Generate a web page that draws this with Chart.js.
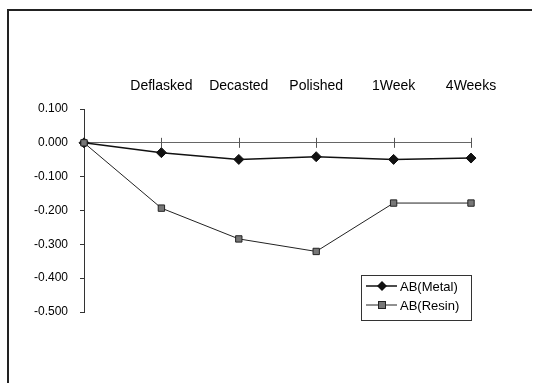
<!DOCTYPE html>
<html>
<head>
<meta charset="utf-8">
<script src="https://cdn.jsdelivr.net/npm/chart.js@4"></script>
<style>
  html, body { margin: 0; padding: 0; background: #fff; }
  #wrap { width: 535px; height: 383px; position: relative; }
</style>
</head>
<body>
<div id="wrap"><canvas id="shrinkageChart"></canvas></div>
<script>
// Data
const stages = ['', 'Deflasked', 'Decasted', 'Polished', '1Week', '4Weeks']
const metalValues = [0, -0.029, -0.049, -0.041, -0.049, -0.045]
const resinValues = [0, -0.193, -0.284, -0.321, -0.178, -0.178]
const seriesNames = ['AB(Metal)', 'AB(Resin)']
const yTicks = [0.1, 0, -0.1, -0.2, -0.3, -0.4, -0.5]

const FONT = '"Liberation Sans", Arial, sans-serif'

// Outer frame: top and left edge only, like the scanned figure
const framePlugin = {
  id: 'frame',
  beforeDraw(chart) {
    const c = chart.ctx
    c.save()
    c.strokeStyle = '#222'
    c.lineWidth = 2
    c.beginPath()
    c.moveTo(8, 383)
    c.lineTo(8, 10)
    c.lineTo(532, 10)
    c.stroke()
    c.restore()
  }
}

// Small tick marks crossing the zero line at each stage
const zeroTicksPlugin = {
  id: 'zeroTicks',
  beforeDatasetsDraw(chart) {
    const c = chart.ctx
    const x = chart.scales.x
    const y0 = chart.scales.y.getPixelForValue(0)
    c.save()
    c.strokeStyle = '#555'
    c.lineWidth = 1
    for (let i = 1; i < stages.length; i++) {
      const px = Math.round(x.getPixelForValue(i)) + 0.5
      c.beginPath()
      c.moveTo(px, y0 - 5)
      c.lineTo(px, y0 + 5)
      c.stroke()
    }
    c.restore()
  }
}

// Boxed legend sitting inside the plot, lower right
const boxLegendPlugin = {
  id: 'boxLegend',
  afterDraw(chart) {
    const c = chart.ctx
    const bx = 361, by = 275, bw = 110, bh = 45
    c.save()
    c.strokeStyle = '#333'
    c.lineWidth = 1
    c.strokeRect(bx + 0.5, by + 0.5, bw, bh)
    c.font = '13px ' + FONT
    c.textBaseline = 'middle'
    chart.data.datasets.forEach((ds, i) => {
      const ry = by + 11 + i * 19
      c.strokeStyle = ds.borderColor
      c.lineWidth = ds.borderWidth
      c.beginPath()
      c.moveTo(bx + 5, ry)
      c.lineTo(bx + 36, ry)
      c.stroke()
      const mx = bx + 21
      c.fillStyle = ds.pointBackgroundColor
      c.strokeStyle = ds.pointBorderColor
      c.lineWidth = 1
      if (ds.pointStyle === 'rectRot') {
        c.beginPath()
        c.moveTo(mx, ry - 5)
        c.lineTo(mx + 5, ry)
        c.lineTo(mx, ry + 5)
        c.lineTo(mx - 5, ry)
        c.closePath()
        c.fill()
      } else {
        c.fillRect(mx - 4, ry - 4, 8, 8)
        c.strokeRect(mx - 3.5, ry - 3.5, 7, 7)
      }
      c.fillStyle = '#000'
      c.fillText(ds.label, bx + 39, ry + 1)
    })
    c.restore()
  }
}

const isZero = (v) => Math.abs(v) < 1e-9

new Chart(document.getElementById('shrinkageChart'), {
  type: 'line',
  data: {
    labels: stages,
    datasets: [
      {
        label: seriesNames[0],
        data: metalValues,
        borderColor: '#111',
        borderWidth: 1.5,
        pointStyle: 'rectRot',
        pointRadius: 5,
        pointBackgroundColor: '#111',
        pointBorderColor: '#111',
        pointBorderWidth: 1,
        tension: 0,
        clip: false,
        order: 1
      },
      {
        label: seriesNames[1],
        data: resinValues,
        borderColor: '#222',
        borderWidth: 1,
        pointStyle: 'rect',
        pointRadius: 4.5,
        pointBackgroundColor: '#777',
        pointBorderColor: '#222',
        pointBorderWidth: 1,
        tension: 0,
        clip: false,
        order: 0
      }
    ]
  },
  plugins: [framePlugin, zeroTicksPlugin, boxLegendPlugin],
  options: {
    responsive: true,
    maintainAspectRatio: false,
    animation: false,
    layout: { padding: { left: 0, top: 0, right: 64, bottom: 71 } },
    plugins: {
      legend: { display: false },
      tooltip: { enabled: false }
    },
    scales: {
      x: {
        type: 'category',
        position: 'top',
        offset: false,
        grid: { display: false, drawTicks: false },
        border: { display: false },
        ticks: {
          color: '#000',
          padding: 14,
          maxRotation: 0,
          autoSkip: false,
          font: { family: FONT, size: 14 }
        },
        afterFit(scale) {
          scale.height = 109
        }
      },
      y: {
        min: -0.5,
        max: 0.1,
        afterBuildTicks(scale) {
          scale.ticks = yTicks.map((v) => ({ value: v }))
        },
        border: { display: true, color: '#333', width: 1 },
        grid: {
          color: (ctx) => (ctx.tick && isZero(ctx.tick.value) ? '#666' : 'rgba(0,0,0,0)'),
          tickColor: '#333',
          tickLength: 4,
          lineWidth: 1
        },
        ticks: {
          color: '#000',
          padding: 12,
          font: { family: FONT, size: 12 },
          callback: function (value) {
            return isZero(value) ? '0.000' : value.toFixed(3)
          }
        },
        afterFit(scale) {
          scale.width = 84
        }
      }
    }
  }
})
</script>
</body>
</html>
